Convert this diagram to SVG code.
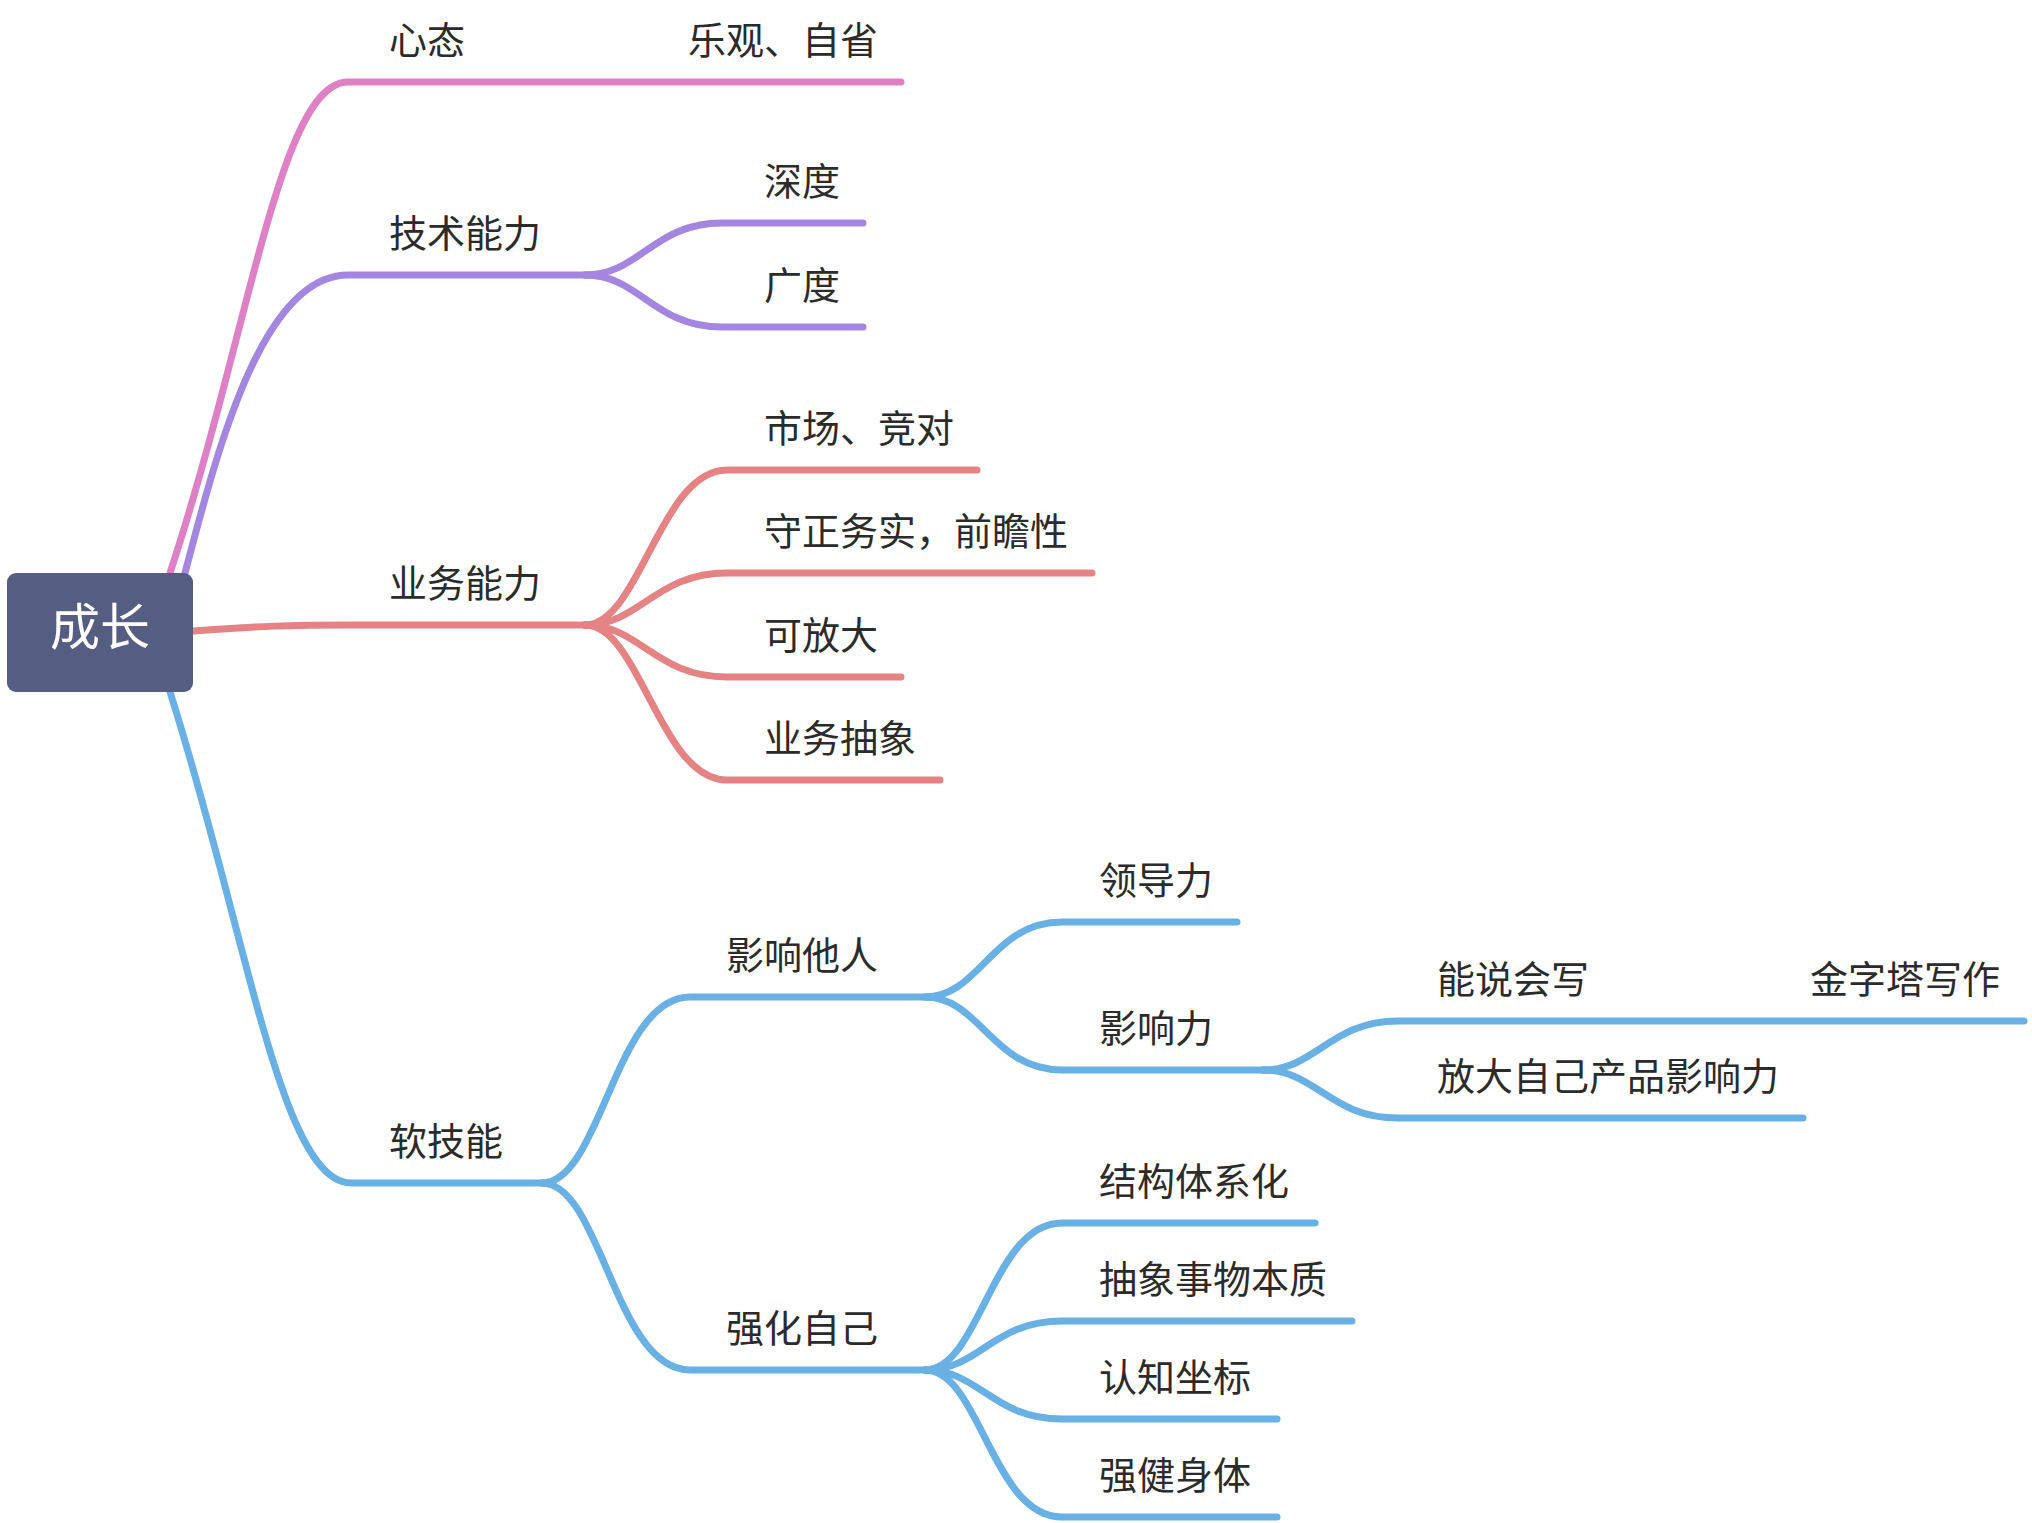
<svg xmlns="http://www.w3.org/2000/svg" width="2032" height="1523" viewBox="0 0 2032 1523">
<style>
.c{fill:none;stroke-width:7;stroke-linecap:round;stroke-linejoin:round}
.pk{stroke:#de80c5}
.pu{stroke:#a386df}
.rd{stroke:#e58384}
.bl{stroke:#69b0e4}
.t{font-family:"Noto Sans CJK SC","Noto Sans",sans-serif;font-size:38px;fill:#2b2b2b}
.root{font-family:"Noto Sans CJK SC","Noto Sans",sans-serif;font-size:50px;fill:#ffffff}
</style>
<rect width="2032" height="1523" fill="#ffffff"/>
<g id="connectors">
<path class="c pk" d="M170,573 C250,330 280,82 348,82 L901,82"/>
<path class="c pu" d="M185,573 C215,460 260,275 348,275 L590,275"/>
<path class="c pu" d="M585,275 C640,275 653,223 722,223 L863,223"/>
<path class="c pu" d="M585,275 C640,275 653,327 722,327 L863,327"/>
<path class="c rd" d="M193,631 C260,626 290,625 348,625 L590,625"/>
<path class="c rd" d="M585,625 C640,625 660,470 727,470 L977,470"/>
<path class="c rd" d="M585,625 C640,625 655,573 727,573 L1092,573"/>
<path class="c rd" d="M585,625 C640,625 655,677 727,677 L901,677"/>
<path class="c rd" d="M585,625 C640,625 660,780 727,780 L940,780"/>
<path class="c bl" d="M170,692 C248,937 281,1183 351,1183 L545,1183"/>
<path class="c bl" d="M542,1183 C601,1183 615,997 690,997 L930,997"/>
<path class="c bl" d="M542,1183 C601,1183 615,1370 690,1370 L930,1370"/>
<path class="c bl" d="M925,997 C980,997 992,922 1062,922 L1237,922"/>
<path class="c bl" d="M925,997 C980,997 992,1070 1062,1070 L1268,1070"/>
<path class="c bl" d="M1263,1070 C1316,1070 1330,1021 1398,1021 L2024,1021"/>
<path class="c bl" d="M1263,1070 C1316,1070 1330,1118 1398,1118 L1803,1118"/>
<path class="c bl" d="M925,1370 C980,1370 992,1223 1062,1223 L1315,1223"/>
<path class="c bl" d="M925,1370 C980,1370 992,1321 1062,1321 L1352,1321"/>
<path class="c bl" d="M925,1370 C980,1370 992,1419 1062,1419 L1277,1419"/>
<path class="c bl" d="M925,1370 C980,1370 992,1517 1062,1517 L1277,1517"/>
</g>
<g id="n-root"><rect x="7" y="573" width="186" height="119" rx="9" fill="#565d83"/><text class="root" x="100" y="645" text-anchor="middle">成长</text></g>
<g id="n-xintai"><text class="t" x="389" y="54">心态</text></g>
<g id="n-leguan"><text class="t" x="688" y="54">乐观、自省</text></g>
<g id="n-jishu"><text class="t" x="389" y="247">技术能力</text></g>
<g id="n-shendu"><text class="t" x="764" y="195">深度</text></g>
<g id="n-guangdu"><text class="t" x="764" y="299">广度</text></g>
<g id="n-yewu"><text class="t" x="389" y="597">业务能力</text></g>
<g id="n-shichang"><text class="t" x="764" y="442">市场、竞对</text></g>
<g id="n-shouzheng"><text class="t" x="764" y="545">守正务实，前瞻性</text></g>
<g id="n-kefangda"><text class="t" x="764" y="649">可放大</text></g>
<g id="n-chouxiang"><text class="t" x="764" y="752">业务抽象</text></g>
<g id="n-ruanjineng"><text class="t" x="389" y="1155">软技能</text></g>
<g id="n-yingxiangtaren"><text class="t" x="726" y="969">影响他人</text></g>
<g id="n-qianghua"><text class="t" x="726" y="1342">强化自己</text></g>
<g id="n-lingdaoli"><text class="t" x="1099" y="894">领导力</text></g>
<g id="n-yingxiangli"><text class="t" x="1099" y="1042">影响力</text></g>
<g id="n-nengshuo"><text class="t" x="1437" y="993">能说会写</text></g>
<g id="n-jinzita"><text class="t" x="1810" y="993">金字塔写作</text></g>
<g id="n-fangda"><text class="t" x="1437" y="1090">放大自己产品影响力</text></g>
<g id="n-jiegou"><text class="t" x="1099" y="1195">结构体系化</text></g>
<g id="n-chouxiangshiwu"><text class="t" x="1099" y="1293">抽象事物本质</text></g>
<g id="n-renzhi"><text class="t" x="1099" y="1391">认知坐标</text></g>
<g id="n-qiangjian"><text class="t" x="1099" y="1489">强健身体</text></g>
</svg>
